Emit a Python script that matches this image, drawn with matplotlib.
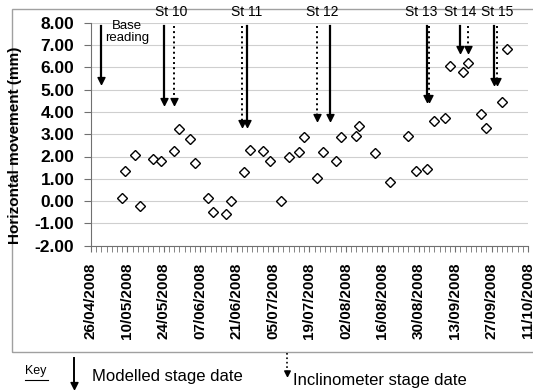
import matplotlib
matplotlib.use("Agg")
import matplotlib.pyplot as plt
import matplotlib.dates as mdates
from matplotlib.lines import Line2D
from matplotlib.patches import Rectangle
from matplotlib.ticker import FormatStrFormatter, FixedLocator
import pandas as pd

plt.rcParams['font.family'] = ['Liberation Sans', 'DejaVu Sans']

# readings (date, horizontal movement mm)
dates = ["08/05/2008", "09/05/2008", "13/05/2008", "15/05/2008", "20/05/2008",
         "23/05/2008", "28/05/2008", "30/05/2008", "03/06/2008", "05/06/2008",
         "10/06/2008", "12/06/2008", "17/06/2008", "19/06/2008", "24/06/2008",
         "26/06/2008", "01/07/2008", "04/07/2008", "08/07/2008", "11/07/2008",
         "15/07/2008", "17/07/2008", "22/07/2008", "24/07/2008", "29/07/2008",
         "31/07/2008", "06/08/2008", "07/08/2008", "13/08/2008", "19/08/2008",
         "26/08/2008", "29/08/2008", "02/09/2008", "05/09/2008", "09/09/2008",
         "11/09/2008", "16/09/2008", "18/09/2008", "23/09/2008", "25/09/2008",
         "01/10/2008", "03/10/2008"]
movement = [0.15, 1.36, 2.05, -0.22, 1.87,
            1.79, 2.24, 3.23, 2.79, 1.69,
            0.15, -0.51, -0.60, 0.02, 1.29,
            2.29, 2.26, 1.78, 0.02, 1.99,
            2.20, 2.88, 1.05, 2.21, 1.81,
            2.86, 2.91, 3.38, 2.17, 0.85,
            2.93, 1.35, 1.43, 3.60, 3.72,
            6.07, 5.80, 6.19, 3.89, 3.26,
            4.44, 6.83]

# stage arrows
stage_names = ["St 10", "St 11", "St 12", "St 13", "St 14", "St 15"]
label_dates = ["27/05/2008", "25/06/2008", "24/07/2008", "31/08/2008", "15/09/2008", "29/09/2008"]
modelled_dates = ["24/05/2008", "25/06/2008", "27/07/2008", "02/09/2008", "15/09/2008", "28/09/2008"]
inclinometer_dates = ["28/05/2008", "23/06/2008", "22/07/2008", "03/09/2008", "18/09/2008", "29/09/2008"]
arrow_tips = [4.30, 3.33, 3.60, 4.45, 6.62, 5.20]
base_date = "30/04/2008"
base_tip = 5.25
base_label_date = "10/05/2008"


def d(s):
    return pd.to_datetime(s, format="%d/%m/%Y")


W, H = 533, 392
fig = plt.figure(figsize=(W / 100, H / 100), dpi=100)

def fx(p):
    return p / W

def fy(p):
    return 1 - p / H

fig.add_artist(Rectangle((fx(12), fy(352)), 1, (352 - 9) / H, transform=fig.transFigure,
                         fill=False, edgecolor="#a0a0a0", lw=1.0, zorder=0))

ax = fig.add_axes([fx(91), fy(245.7), (528 - 91) / W, (245.7 - 22.7) / H])
ax.set_facecolor("none")

ax.plot(d(dates), movement, linestyle="none", marker="D", markersize=4.8,
        markerfacecolor="white", markeredgecolor="black", markeredgewidth=1.0, zorder=3)

head = [(0, 0), (-0.5, 1), (0.5, 1), (0, 0)]
arrow_top = 7.85

def arrow(x, tip, style):
    lw = 1.6 if style == "-" else 1.4
    ax.plot([x, x], [arrow_top, tip + 0.2], color="black", lw=lw, linestyle=style,
            zorder=4, clip_on=False)
    ax.plot([x], [tip], marker=head, markersize=10, color="black", linestyle="none",
            zorder=4, clip_on=False)

arrow(d(base_date), base_tip, "-")
for md, idt, tip in zip(modelled_dates, inclinometer_dates, arrow_tips):
    arrow(d(md), tip, "-")
    arrow(d(idt), tip, ":")

for name, ld in zip(stage_names, label_dates):
    ax.text(d(ld), 8.5, name, ha="center", va="center", fontsize=10, clip_on=False)
ax.text(d(base_label_date), 7.58, "Base\nreading", ha="center", va="center",
        fontsize=9.5, linespacing=1.0, clip_on=False)

ax.set_xlim(d("26/04/2008"), d("11/10/2008"))
ax.set_ylim(-2, 8)
ax.set_yticks(range(-2, 9))
ax.yaxis.set_major_formatter(FormatStrFormatter("%.2f"))
major = mdates.date2num(pd.date_range("2008-04-26", "2008-10-11", freq="14D"))
minor = mdates.date2num(pd.date_range("2008-04-26", "2008-10-11", freq="2D"))
ax.xaxis.set_major_locator(FixedLocator(major))
ax.xaxis.set_minor_locator(FixedLocator(minor))
ax.xaxis.set_major_formatter(mdates.DateFormatter("%d/%m/%Y"))

ax.grid(axis="y", color="#cfcfcf", lw=0.8)
ax.set_axisbelow(True)
for s in ["top", "right"]:
    ax.spines[s].set_visible(False)
for s in ["left", "bottom"]:
    ax.spines[s].set_color("#707070")
ax.tick_params(axis="y", labelsize=12.5, direction="out", length=5, color="#707070", pad=7)
ax.tick_params(axis="x", which="both", direction="out", length=4, color="#707070")
ax.tick_params(axis="x", which="major", labelsize=11, labelrotation=90, pad=8)
for lab in ax.get_xticklabels() + ax.get_yticklabels():
    lab.set_fontweight("bold")

ax.set_ylabel("Horizontal movement (mm)", fontsize=11, fontweight="bold")
ax.yaxis.set_label_coords((22 - 91) / 437, 0.45)

# key
fig.text(fx(25), fy(371), "Key", fontsize=9, va="center", ha="left")
fig.add_artist(Line2D([fx(25), fx(48)], [fy(380), fy(380)], transform=fig.transFigure,
                      color="black", lw=0.8))
fig.add_artist(Line2D([fx(74), fx(74)], [fy(358), fy(385)], transform=fig.transFigure,
                      color="black", lw=1.4))
fig.add_artist(Line2D([fx(74)], [fy(389)], transform=fig.transFigure, marker=head,
                      markersize=10, color="black", linestyle="none"))
fig.text(fx(92), fy(376), "Modelled stage date", fontsize=12, va="center", ha="left")
fig.add_artist(Line2D([fx(287), fx(287)], [fy(353), fy(372)], transform=fig.transFigure,
                      color="black", lw=1.2, linestyle=":"))
fig.add_artist(Line2D([fx(287)], [fy(376)], transform=fig.transFigure, marker=head,
                      markersize=8, color="black", linestyle="none"))
fig.text(fx(293), fy(380), "Inclinometer stage date", fontsize=12, va="center", ha="left")

fig.savefig("out.png", dpi=100)
